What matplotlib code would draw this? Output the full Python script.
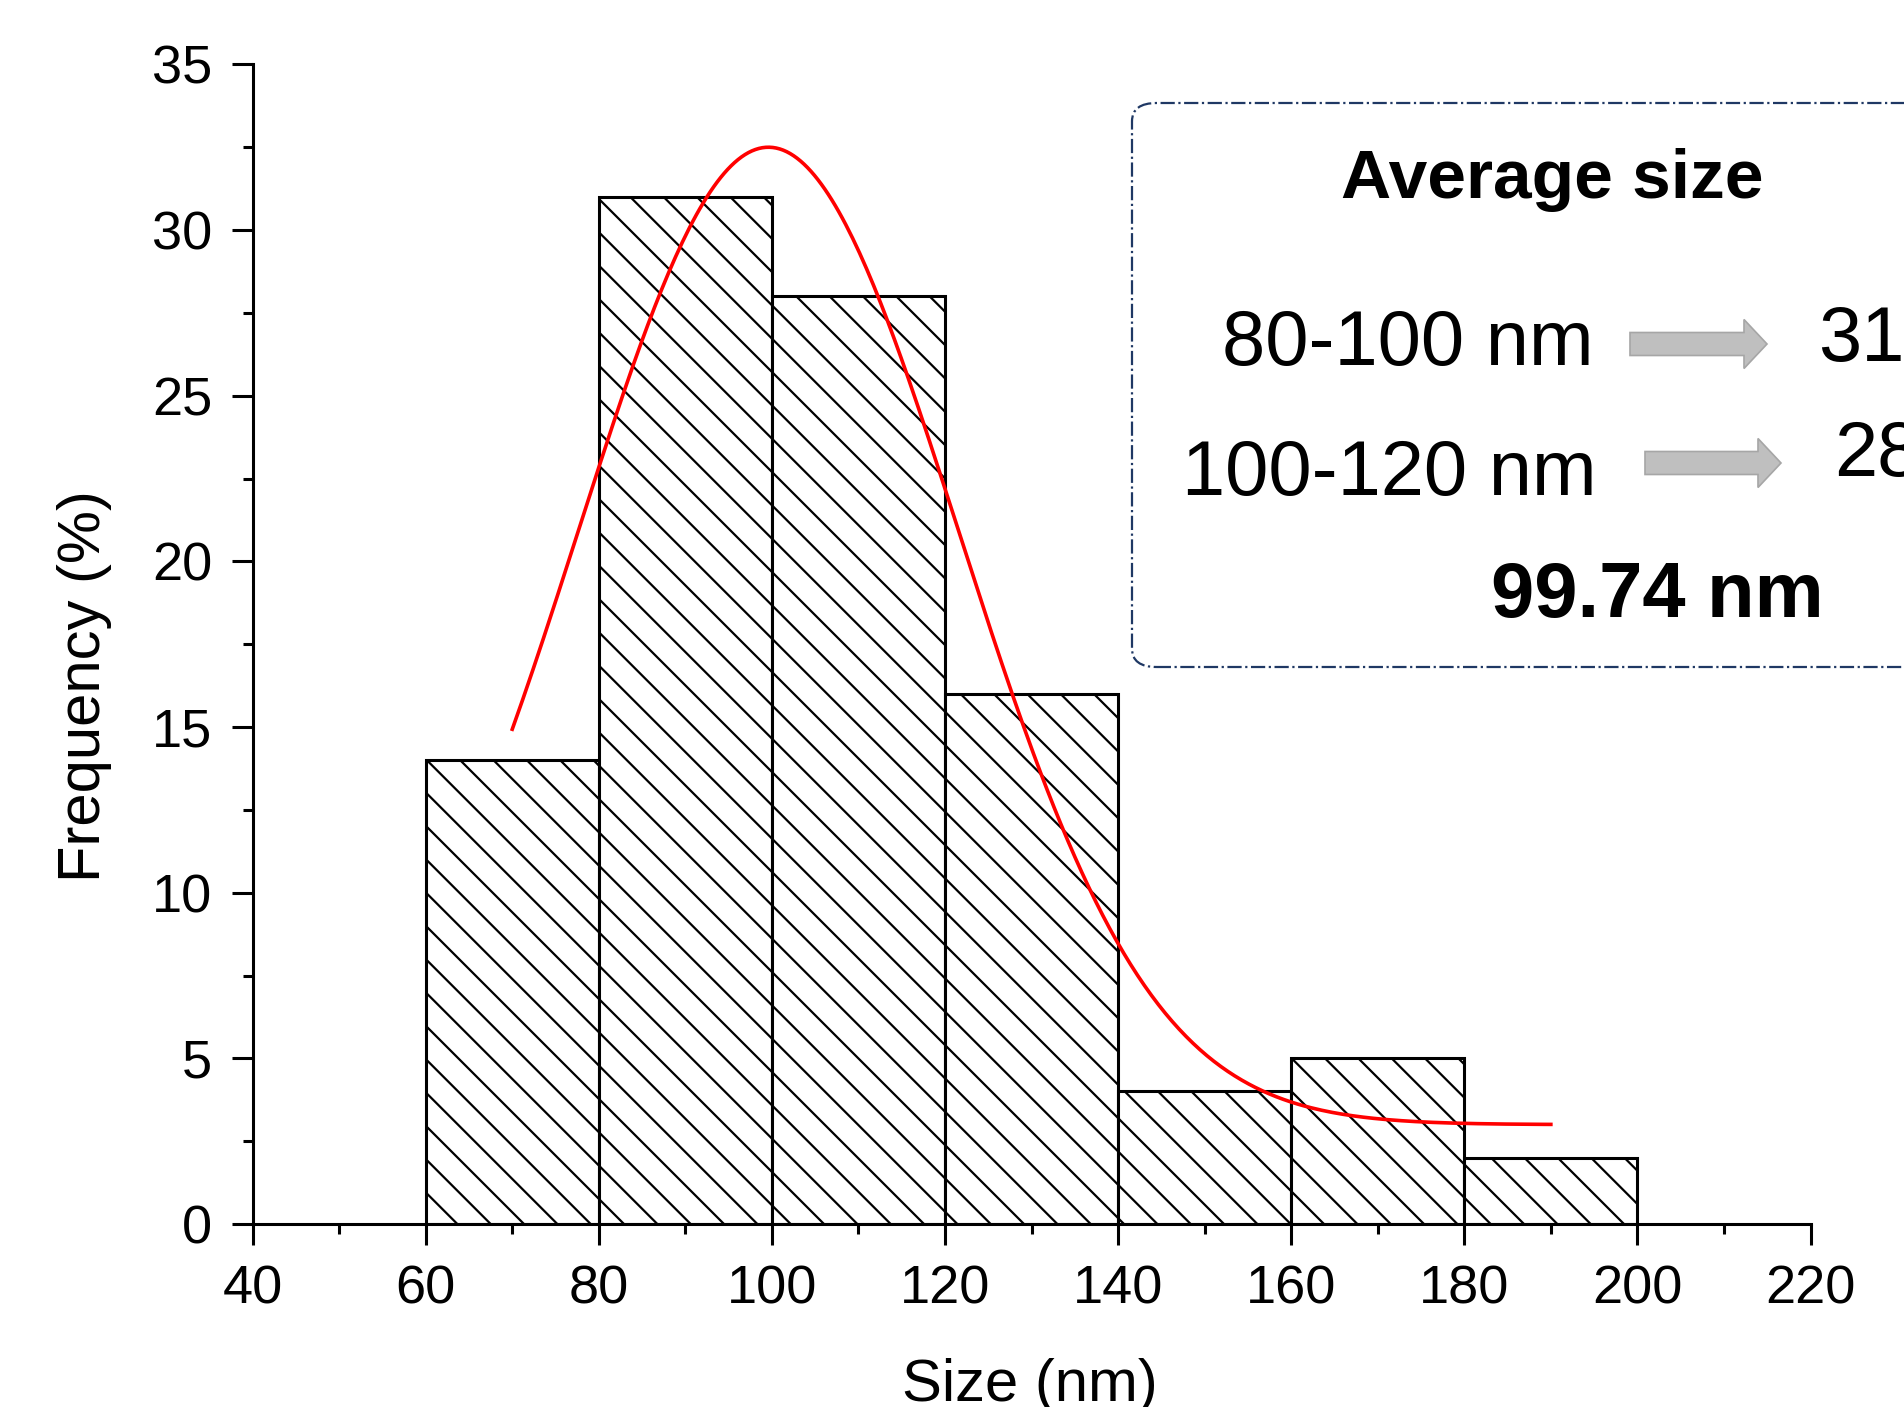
import numpy as np
import matplotlib
matplotlib.use("Agg")
import matplotlib.pyplot as plt
from matplotlib.patches import FancyBboxPatch, Polygon

# histogram data (size bins in nm, frequency in %)
bin_edges = [60, 80, 100, 120, 140, 160, 180, 200]
freq = [14, 31, 28, 16, 4, 5, 2]

# gaussian fit
fit_y0 = 3.0
fit_xc = 99.6
fit_w = 22.0
fit_A = 29.5
fit_range = (70, 190)

# box texts
box_title = "Average size"
ranges = ["80-100 nm", "100-120 nm"]
range_vals = ["31", "28"]
avg_text = "99.74 nm"

plt.rcParams['font.family'] = ['Liberation Sans', 'DejaVu Sans']
plt.rcParams['hatch.linewidth'] = 0.8
plt.rcParams['hatch.color'] = 'black'

W, H = 1904, 1407
fig = plt.figure(figsize=(W / 200, H / 200), dpi=200)
ax = fig.add_axes([252.6 / W, 1 - 1224 / H, (1810.5 - 252.6) / W, (1224 - 64.4) / H])

widths = np.diff(bin_edges)
ax.bar(bin_edges[:-1], freq, width=widths, align='edge', color='white',
       edgecolor='black', linewidth=1.1, hatch='\\\\')

xs = np.linspace(fit_range[0], fit_range[1], 300)
ax.plot(xs, fit_y0 + fit_A * np.exp(-(xs - fit_xc) ** 2 / (2 * fit_w ** 2)),
        color='red', linewidth=1.3)

ax.set_xlim(40, 220)
ax.set_ylim(0, 35)
ax.set_xticks(np.arange(40, 221, 20))
ax.set_xticks(np.arange(40, 221, 10), minor=True)
ax.set_yticks(np.arange(0, 36, 5))
ax.set_yticks(np.arange(0, 36, 2.5), minor=True)
for s in ['top', 'right']:
    ax.spines[s].set_visible(False)
for s in ['left', 'bottom']:
    ax.spines[s].set_linewidth(1.1)
ax.tick_params(which='major', length=7.5, width=1.1, labelsize=19.5, pad=7)
ax.tick_params(which='minor', length=3.6, width=1.1)

ax.set_xlabel("Size (nm)", fontsize=21.5)
ax.set_ylabel("Frequency (%)", fontsize=21.5)
ax.xaxis.set_label_coords(0.499, -0.139)
ax.xaxis.label.set_va('center')
ax.yaxis.set_label_coords(-0.1076, 0.464)
ax.yaxis.label.set_va('center')


def fx(px):
    return px / W


def fy(py):
    return 1 - py / H


# dash-dot rounded box, running off the right edge
box = FancyBboxPatch((fx(1132), fy(667)), fx(2100) - fx(1132), fy(103) - fy(667),
                     boxstyle="round,pad=0,rounding_size=0.013",
                     transform=fig.transFigure, facecolor='none',
                     edgecolor='#1F3864', linewidth=0.8, linestyle='-.')
fig.add_artist(box)

fig.text(fx(1552), fy(180), box_title, fontsize=25, fontweight='bold',
         ha='center', va='center')
fig.text(fx(1594), fy(344), ranges[0], fontsize=28, ha='right', va='center')
fig.text(fx(1597), fy(474), ranges[1], fontsize=28, ha='right', va='center')
fig.text(fx(1818), fy(340), range_vals[0], fontsize=28, ha='left', va='center')
fig.text(fx(1834), fy(456), range_vals[1], fontsize=28, ha='left', va='center')
fig.text(fx(1657), fy(597), avg_text, fontsize=28, fontweight='bold',
         ha='center', va='center')


# grey block arrows
def block_arrow(x0, x1, yc):
    sh, hh, hl = 11.5, 24.5, 23
    pts = [(x0, yc - sh), (x1 - hl, yc - sh), (x1 - hl, yc - hh), (x1, yc),
           (x1 - hl, yc + hh), (x1 - hl, yc + sh), (x0, yc + sh)]
    fig.add_artist(Polygon([(fx(a), fy(b)) for a, b in pts], closed=True,
                           transform=fig.transFigure, facecolor='#BFBFBF',
                           edgecolor='#A6A6A6', linewidth=0.6))


block_arrow(1630, 1767, 344)
block_arrow(1645, 1781, 463)

fig.savefig("out.png", dpi=200)
